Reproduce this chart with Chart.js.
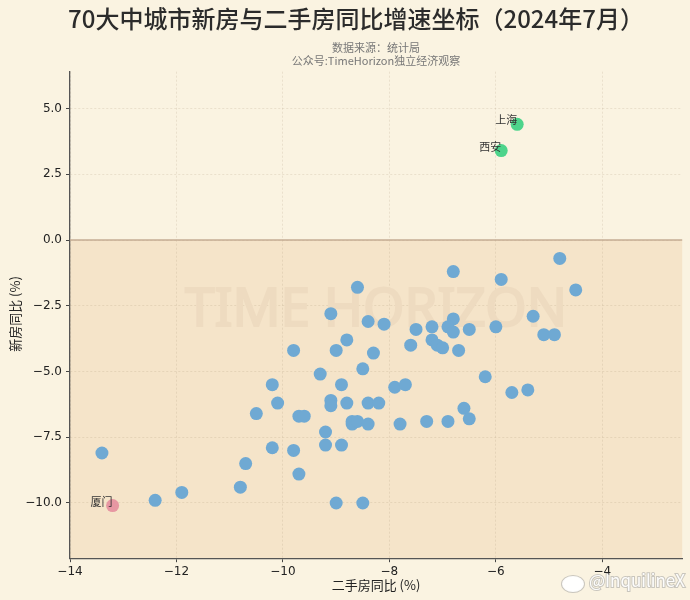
<!DOCTYPE html>
<html>
<head>
<meta charset="utf-8">
<script src="https://cdn.jsdelivr.net/npm/chart.js@4.4.1/dist/chart.umd.min.js"></script>
<style>
  html, body { margin: 0; padding: 0; background: #faf3e1; }
  #wrap { width: 690px; height: 600px; }
</style>
</head>
<body>
<div id="wrap"><canvas id="myChart" width="690" height="600"></canvas></div>
<script>
// 二手房同比 (x) / 新房同比 (y), 单位 %
const otherX = [
  -4.8, -4.5, -6.8, -5.9, -8.6, -5.3, -5.1, -4.9, -6.0, -6.8,
  -6.9, -6.8, -7.2, -7.5, -6.5, -7.2, -7.1, -7.0, -6.7, -7.6,
  -8.1, -8.4, -8.3, -6.2, -7.9, -7.7, -5.7, -5.4, -6.6, -6.5,
  -8.4, -8.2, -9.1, -8.8, -9.0, -9.8, -8.5, -9.3, -10.2, -8.9,
  -10.1, -9.1, -9.1, -8.8, -10.5, -9.7, -9.6, -8.7, -8.7, -8.6,
  -8.4, -9.2, -9.2, -8.9, -10.2, -9.8, -10.7, -9.7, -10.8, -11.9,
  -12.4, -9.0, -8.5, -13.4, -7.8, -7.3, -6.9
];
const otherY = [
  -0.7, -1.9, -1.2, -1.5, -1.8, -2.9, -3.6, -3.6, -3.3, -3.0,
  -3.3, -3.5, -3.3, -3.4, -3.4, -3.8, -4.0, -4.1, -4.2, -4.0,
  -3.2, -3.1, -4.3, -5.2, -5.6, -5.5, -5.8, -5.7, -6.4, -6.8,
  -6.2, -6.2, -2.8, -3.8, -4.2, -4.2, -4.9, -5.1, -5.5, -5.5,
  -6.2, -6.1, -6.3, -6.2, -6.6, -6.7, -6.7, -6.9, -7.0, -6.9,
  -7.0, -7.3, -7.8, -7.8, -7.9, -8.0, -8.5, -8.9, -9.4, -9.6,
  -9.9, -10.0, -10.0, -8.1, -7.0, -6.9, -6.9
];
const upCities = ["上海", "西安"];
const upX = [-5.6, -5.9];
const upY = [4.4, 3.4];
const lowCities = ["厦门"];
const lowX = [-13.2];
const lowY = [-10.1];

const xTicks = [-14, -12, -10, -8, -6, -4];
const yTicks = [-10, -7.5, -5, -2.5, 0, 2.5, 5];

function toPoints(xs, ys, names) {
  return xs.map(function (x, i) {
    return { x: x, y: ys[i], name: names ? names[i] : "" };
  });
}

function minus(s) {
  return String(s).replace("-", "\u2212");
}

const BG = "#faf3e1";
const SHADE = "#f5e4c9";
const CJK = '"Noto Sans CJK SC", "Noto Sans", sans-serif';

const decorPlugin = {
  id: "decor",
  beforeDraw: function (chart) {
    const c = chart.ctx;
    const area = chart.chartArea;
    const y0 = chart.scales.y.getPixelForValue(0);
    c.save();
    c.fillStyle = BG;
    c.fillRect(0, 0, chart.width, chart.height);
    c.fillStyle = SHADE;
    c.fillRect(area.left, y0, area.right - area.left, area.bottom - y0);
    c.restore();
  },
  beforeDatasetsDraw: function (chart) {
    const c = chart.ctx;
    const area = chart.chartArea;
    const y0 = chart.scales.y.getPixelForValue(0);
    c.save();
    // watermark
    c.font = '53px "Noto Sans", sans-serif';
    c.fillStyle = "#eedbc0";
    c.strokeStyle = "#eedbc0";
    c.lineWidth = 2;
    c.textAlign = "center";
    c.textBaseline = "middle";
    c.strokeText("TIME HORIZON", 376, 311);
    c.fillText("TIME HORIZON", 376, 311);
    // zero line
    c.strokeStyle = "#c4ad93";
    c.lineWidth = 1.3;
    c.beginPath();
    c.moveTo(area.left, y0);
    c.lineTo(area.right, y0);
    c.stroke();
    c.restore();
  },
  afterDatasetsDraw: function (chart) {
    const c = chart.ctx;
    c.save();
    c.font = "11px " + CJK;
    c.fillStyle = "#333";
    c.textAlign = "right";
    c.textBaseline = "middle";
    [1, 2].forEach(function (di) {
      const meta = chart.getDatasetMeta(di);
      meta.data.forEach(function (el, i) {
        const p = chart.data.datasets[di].data[i];
        c.fillText(p.name, el.x, el.y - 4);
      });
    });

    // titles
    c.textAlign = "center";
    c.fillStyle = "#2b2b2b";
    c.font = "500 24px " + CJK;
    c.fillText("70大中城市新房与二手房同比增速坐标（2024年7月）", 356, 19);
    c.fillStyle = "#777";
    c.font = "11px " + CJK;
    c.fillText("数据来源：统计局", 376, 48);
    c.fillText("公众号:TimeHorizon独立经济观察", 376, 61);

    // axis titles
    c.fillStyle = "#222";
    c.font = "13px " + CJK;
    c.fillText("二手房同比 (%)", 376, 585);
    c.save();
    c.translate(15, 314);
    c.rotate(-Math.PI / 2);
    c.fillText("新房同比 (%)", 0, 0);
    c.restore();

    // weibo mark
    c.textAlign = "left";
    c.font = "17px " + CJK;
    c.lineWidth = 2;
    c.strokeStyle = "rgba(160,160,160,0.55)";
    c.fillStyle = "rgba(255,255,255,0.95)";
    c.strokeText("@InquilineX", 589, 581);
    c.fillText("@InquilineX", 589, 581);
    c.beginPath();
    c.ellipse(573, 584, 11, 8, 0, 0, Math.PI * 2);
    c.stroke();
    c.fill();
    c.restore();
  },
};

const ctx = document.getElementById("myChart").getContext("2d");
const myChart = new Chart(ctx, {
  type: "scatter",
  data: {
    datasets: [
      {
        data: toPoints(otherX, otherY),
        backgroundColor: "#6fa9d3",
        borderWidth: 0,
        pointRadius: 6.5,
      },
      {
        data: toPoints(upX, upY, upCities),
        backgroundColor: "#4dd48b",
        borderWidth: 0,
        pointRadius: 6.5,
      },
      {
        data: toPoints(lowX, lowY, lowCities),
        backgroundColor: "#e797a2",
        borderWidth: 0,
        pointRadius: 6.5,
      },
    ],
  },
  options: {
    responsive: false,
    animation: false,
    events: [],
    layout: { padding: { top: 71.7, right: 7.8, left: 0, bottom: 0 } },
    plugins: {
      legend: { display: false },
      title: { display: false },
      tooltip: { enabled: false },
    },
    scales: {
      x: {
        type: "linear",
        min: -14,
        max: -2.5,
        afterFit: function (s) { s.height = 41.8; },
        afterBuildTicks: function (s) {
          s.ticks = xTicks.map(function (v) { return { value: v }; });
        },
        ticks: {
          padding: 2,
          color: "#222",
          font: { family: "DejaVu Sans", size: 12 },
          callback: function (v) { return minus(v); },
        },
        grid: {
          color: "rgba(160,140,110,0.18)",
          drawTicks: true,
          tickLength: 4,
          tickColor: "#444",
          tickWidth: 1,
        },
        border: { color: "#555", width: 1.3, dash: [2, 2] },
      },
      y: {
        type: "linear",
        min: -12.1,
        max: 6.4,
        afterFit: function (s) { s.width = 70; },
        afterBuildTicks: function (s) {
          s.ticks = yTicks.map(function (v) { return { value: v }; });
        },
        ticks: {
          padding: 4,
          color: "#222",
          font: { family: "DejaVu Sans", size: 12 },
          callback: function (v) { return minus(Number(v).toFixed(1)); },
        },
        grid: {
          color: "rgba(160,140,110,0.18)",
          drawTicks: true,
          tickLength: 4,
          tickColor: "#444",
          tickWidth: 1,
        },
        border: { color: "#555", width: 1.3, dash: [2, 2] },
      },
    },
  },
  plugins: [decorPlugin],
});
</script>
</body>
</html>
